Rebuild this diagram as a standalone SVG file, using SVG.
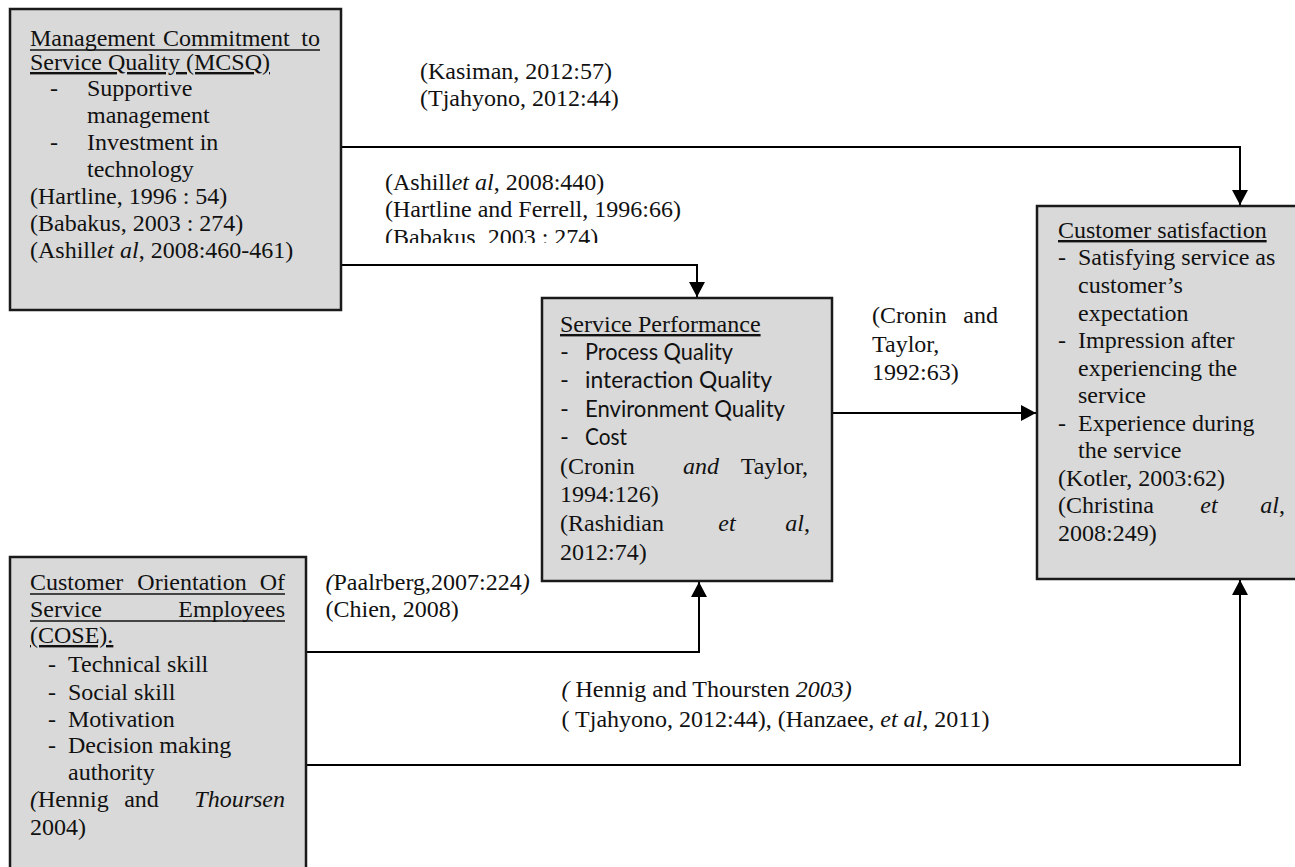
<svg xmlns="http://www.w3.org/2000/svg" width="1295" height="867" viewBox="0 0 1295 867">
<style>
.box{fill:#d9d9d9;stroke:#1a1a1a;stroke-width:2.5}
.t{font-family:"Liberation Serif","Times New Roman",serif;font-size:24px;fill:#111}
.c{font-family:"Lato","Open Sans",sans-serif;font-size:24px;fill:#111}
.u{text-decoration:underline}
.ul{stroke:#111;stroke-width:1.5}
.con{fill:none;stroke:#000;stroke-width:2}
.i{font-style:italic}
.e{text-anchor:end}
.m{text-anchor:middle}
</style>
<defs>
<marker id="ah" markerWidth="16" markerHeight="16" refX="15" refY="8" orient="auto" markerUnits="userSpaceOnUse">
<path d="M0,0 L15,8 L0,16 z" fill="#000"/>
</marker>
<clipPath id="clipB"><rect x="370" y="160" width="380" height="83"/></clipPath>
</defs>

<g id="connectors">
<path class="con" d="M341,147 H1240 V205" marker-end="url(#ah)"/>
<path class="con" d="M341,265 H697 V297" marker-end="url(#ah)"/>
<path class="con" d="M832,413 H1036" marker-end="url(#ah)"/>
<path class="con" d="M306,652 H699 V582" marker-end="url(#ah)"/>
<path class="con" d="M306,765 H1240 V580" marker-end="url(#ah)"/>
</g>

<g id="labels">
<text class="t" x="420" y="79">(Kasiman, 2012:57)</text>
<text class="t" x="420" y="106">(Tjahyono, 2012:44)</text>
<g clip-path="url(#clipB)">
<text class="t" x="385" y="190">(Ashill<tspan class="i">et al</tspan>, 2008:440)</text>
<text class="t" x="385" y="217">(Hartline and Ferrell, 1996:66)</text>
<text class="t" x="385" y="245">(Babakus, 2003 : 274)</text>
</g>
<text class="t" y="323"><tspan x="872">(Cronin</tspan><tspan x="998" class="e">and</tspan></text>
<text class="t" x="872" y="351.5">Taylor,</text>
<text class="t" x="872" y="380">1992:63)</text>
<text class="t" x="325.5" y="590"><tspan class="i">(</tspan>Paalrberg,2007:224<tspan class="i">)</tspan></text>
<text class="t" x="325.5" y="617">(Chien, 2008)</text>
<text class="t" x="561.5" y="697"><tspan class="i">(</tspan> Hennig and Thoursten <tspan class="i">2003)</tspan></text>
<text class="t" x="561.5" y="727">( Tjahyono, 2012:44), (Hanzaee, <tspan class="i">et al,</tspan> 2011)</text>
</g>

<g id="mcsq">
<rect class="box" x="10" y="9" width="331" height="301"/>
<text class="t" y="46"><tspan x="30">Management</tspan><tspan x="163">Commitment</tspan><tspan x="320" class="e">to</tspan></text>
<line class="ul" x1="30" y1="50" x2="320" y2="50"/>
<text class="t u" x="30" y="70">Service Quality (MCSQ)</text>
<text class="t" x="50" y="96">-</text><text class="t" x="87" y="96">Supportive</text>
<text class="t" x="87" y="123">management</text>
<text class="t" x="50" y="150">-</text><text class="t" x="87" y="150">Investment in</text>
<text class="t" x="87" y="177">technology</text>
<text class="t" x="30" y="204">(Hartline, 1996 : 54)</text>
<text class="t" x="30" y="231">(Babakus, 2003 : 274)</text>
<text class="t" x="30" y="258">(Ashill<tspan class="i">et al</tspan>, 2008:460-461)</text>
</g>

<g id="service-performance">
<rect class="box" x="542" y="298" width="290" height="283"/>
<text class="t u" x="560" y="332">Service Performance</text>
<text class="c" x="560" y="360">-</text><text class="c" x="585" y="360" textLength="148" lengthAdjust="spacingAndGlyphs">Process Quality</text>
<text class="c" x="560" y="388">-</text><text class="c" x="585" y="388" textLength="187" lengthAdjust="spacingAndGlyphs">interaction Quality</text>
<text class="c" x="560" y="417">-</text><text class="c" x="585" y="417" textLength="200" lengthAdjust="spacingAndGlyphs">Environment Quality</text>
<text class="c" x="560" y="445">-</text><text class="c" x="585" y="445" textLength="42" lengthAdjust="spacingAndGlyphs">Cost</text>
<text class="t" y="474"><tspan x="560">(Cronin</tspan><tspan x="701" class="m i">and</tspan><tspan x="808" class="e">Taylor,</tspan></text>
<text class="t" x="560" y="502">1994:126)</text>
<text class="t" y="531"><tspan x="560">(Rashidian</tspan><tspan x="727" class="m i">et</tspan><tspan x="810" class="e"><tspan class="i">al</tspan>,</tspan></text>
<text class="t" x="560" y="560">2012:74)</text>
</g>

<g id="customer-satisfaction">
<rect class="box" x="1037" y="206" width="262" height="373"/>
<text class="t u" x="1058" y="238">Customer satisfaction</text>
<text class="t" x="1058" y="265">-</text><text class="t" x="1078" y="265">Satisfying service as</text>
<text class="t" x="1078" y="293">customer’s</text>
<text class="t" x="1078" y="320.5">expectation</text>
<text class="t" x="1058" y="348">-</text><text class="t" x="1078" y="348">Impression after</text>
<text class="t" x="1078" y="375.5">experiencing the</text>
<text class="t" x="1078" y="403">service</text>
<text class="t" x="1058" y="430.5">-</text><text class="t" x="1078" y="430.5">Experience during</text>
<text class="t" x="1078" y="458">the service</text>
<text class="t" x="1058" y="485.5">(Kotler, 2003:62)</text>
<text class="t" y="513"><tspan x="1058">(Christina</tspan><tspan x="1209" class="m i">et</tspan><tspan x="1285" class="e"><tspan class="i">al</tspan>,</tspan></text>
<text class="t" x="1058" y="540.5">2008:249)</text>
</g>

<g id="cose">
<rect class="box" x="10" y="557" width="296" height="330"/>
<text class="t" y="590"><tspan x="30">Customer</tspan><tspan x="192" class="m">Orientation</tspan><tspan x="285" class="e">Of</tspan></text>
<line class="ul" x1="30" y1="594" x2="285" y2="594"/>
<text class="t" y="617"><tspan x="30">Service</tspan><tspan x="285" class="e">Employees</tspan></text>
<line class="ul" x1="30" y1="621" x2="285" y2="621"/>
<text class="t u" x="30" y="643">(COSE).</text>
<text class="t" x="48" y="672">-</text><text class="t" x="68" y="672">Technical skill</text>
<text class="t" x="48" y="700">-</text><text class="t" x="68" y="700">Social skill</text>
<text class="t" x="48" y="727">-</text><text class="t" x="68" y="727">Motivation</text>
<text class="t" x="48" y="753">-</text><text class="t" x="68" y="753">Decision making</text>
<text class="t" x="68" y="780">authority</text>
<text class="t" y="807"><tspan x="30"><tspan class="i">(</tspan>Hennig</tspan><tspan x="141.5" class="m">and</tspan><tspan x="285" class="e i">Thoursen</tspan></text>
<text class="t" x="30" y="835">2004)</text>
</g>
</svg>
